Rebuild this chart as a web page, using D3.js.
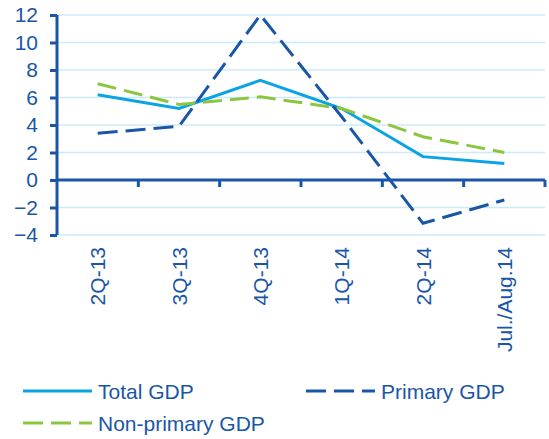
<!DOCTYPE html>
<html>
<head>
<meta charset="utf-8">
<script src="https://cdn.jsdelivr.net/npm/d3@7"></script>
<style>
  body { margin: 0; background: #fff; }
  svg { display: block; font-family: "Liberation Sans", Arial, sans-serif; }
</style>
</head>
<body>
<div id="chart"></div>
<script>
const categories = ["2Q-13", "3Q-13", "4Q-13", "1Q-14", "2Q-14", "Jul./Aug.14"];
const totalGDP = [6.2, 5.2, 7.25, 5.2, 1.7, 1.2];
const primaryGDP = [3.4, 3.9, 12.0, 4.6, -3.15, -1.45];
const nonPrimaryGDP = [7.0, 5.5, 6.05, 5.2, 3.15, 2.0];
const yTicks = [-4, -2, 0, 2, 4, 6, 8, 10, 12];

const series = [
  { name: "Total GDP", values: totalGDP, color: "#0aa3e3", dash: null },
  { name: "Primary GDP", values: primaryGDP, color: "#1a56a8", dash: "20,8" },
  { name: "Non-primary GDP", values: nonPrimaryGDP, color: "#8cc63e", dash: "19,8" }
];

const w = 549, h = 439;
const margin = { t: 15, r: 4, b: 204, l: 57 };
const textColor = "#1a56a8";
const fontSize = 21;

const svg = d3.select("#chart").append("svg")
  .attr("width", w)
  .attr("height", h);

const xScale = d3.scaleBand()
  .domain(categories)
  .range([margin.l, w - margin.r]);

const yScale = d3.scaleLinear()
  .domain([-4, 12])
  .range([h - margin.b, margin.t]);

// gridlines
svg.append("g")
  .selectAll("line")
  .data(yTicks)
  .join("line")
  .attr("x1", margin.l)
  .attr("x2", w - margin.r)
  .attr("y1", d => yScale(d))
  .attr("y2", d => yScale(d))
  .attr("stroke", "#cdeaf8")
  .attr("stroke-width", 1.5);

// y axis
const yAxisG = svg.append("g")
  .attr("transform", `translate(${margin.l}, 0)`)
  .call(d3.axisLeft(yScale).tickValues(yTicks).tickSize(7).tickPadding(12));
yAxisG.select(".domain").attr("stroke", textColor).attr("stroke-width", 3)
  .attr("d", `M0,${yScale(-4)}V${yScale(12)}`);
yAxisG.selectAll(".tick line").attr("stroke", textColor).attr("stroke-width", 3);
yAxisG.selectAll(".tick text").attr("fill", textColor).attr("font-size", fontSize)
  .attr("font-family", "Liberation Sans, Arial, sans-serif");

// x axis at zero
const boundaries = categories.slice(1).map(c => xScale(c)).concat([xScale.range()[1]]);
const xAxisG = svg.append("g");
xAxisG.append("line")
  .attr("x1", margin.l)
  .attr("x2", w - margin.r)
  .attr("y1", yScale(0))
  .attr("y2", yScale(0))
  .attr("stroke", textColor)
  .attr("stroke-width", 3);
xAxisG.selectAll("line.tk")
  .data(boundaries)
  .join("line")
  .attr("class", "tk")
  .attr("x1", d => d)
  .attr("x2", d => d)
  .attr("y1", yScale(0))
  .attr("y2", yScale(0) + 7)
  .attr("stroke", textColor)
  .attr("stroke-width", 3);

// category labels (rotated)
svg.append("g")
  .selectAll("text")
  .data(categories)
  .join("text")
  .attr("transform", d => `translate(${xScale(d) + xScale.bandwidth() / 2 + 7.5}, ${yScale(-4) + 12}) rotate(-90)`)
  .attr("text-anchor", "end")
  .attr("fill", textColor)
  .attr("font-size", fontSize)
  .text(d => d);

// lines
const line = d3.line()
  .x((d, i) => xScale(categories[i]) + xScale.bandwidth() / 2)
  .y(d => yScale(d));

svg.append("g")
  .selectAll("path")
  .data(series)
  .join("path")
  .attr("d", d => line(d.values))
  .attr("fill", "none")
  .attr("stroke", d => d.color)
  .attr("stroke-width", 3)
  .attr("stroke-dasharray", d => d.dash);

// legend
const legendPos = [
  { x: 23, y: 391 },
  { x: 306, y: 391 },
  { x: 23, y: 423 }
];
const legend = svg.append("g")
  .selectAll("g")
  .data(series)
  .join("g")
  .attr("transform", (d, i) => `translate(${legendPos[i].x}, ${legendPos[i].y})`);
legend.append("line")
  .attr("x1", 0)
  .attr("x2", 69)
  .attr("stroke", d => d.color)
  .attr("stroke-width", 3)
  .attr("stroke-dasharray", d => d.dash ? "20,8" : null);
legend.append("text")
  .attr("x", 75)
  .attr("y", 7.5)
  .attr("fill", textColor)
  .attr("font-size", fontSize)
  .text(d => d.name);
</script>
</body>
</html>
